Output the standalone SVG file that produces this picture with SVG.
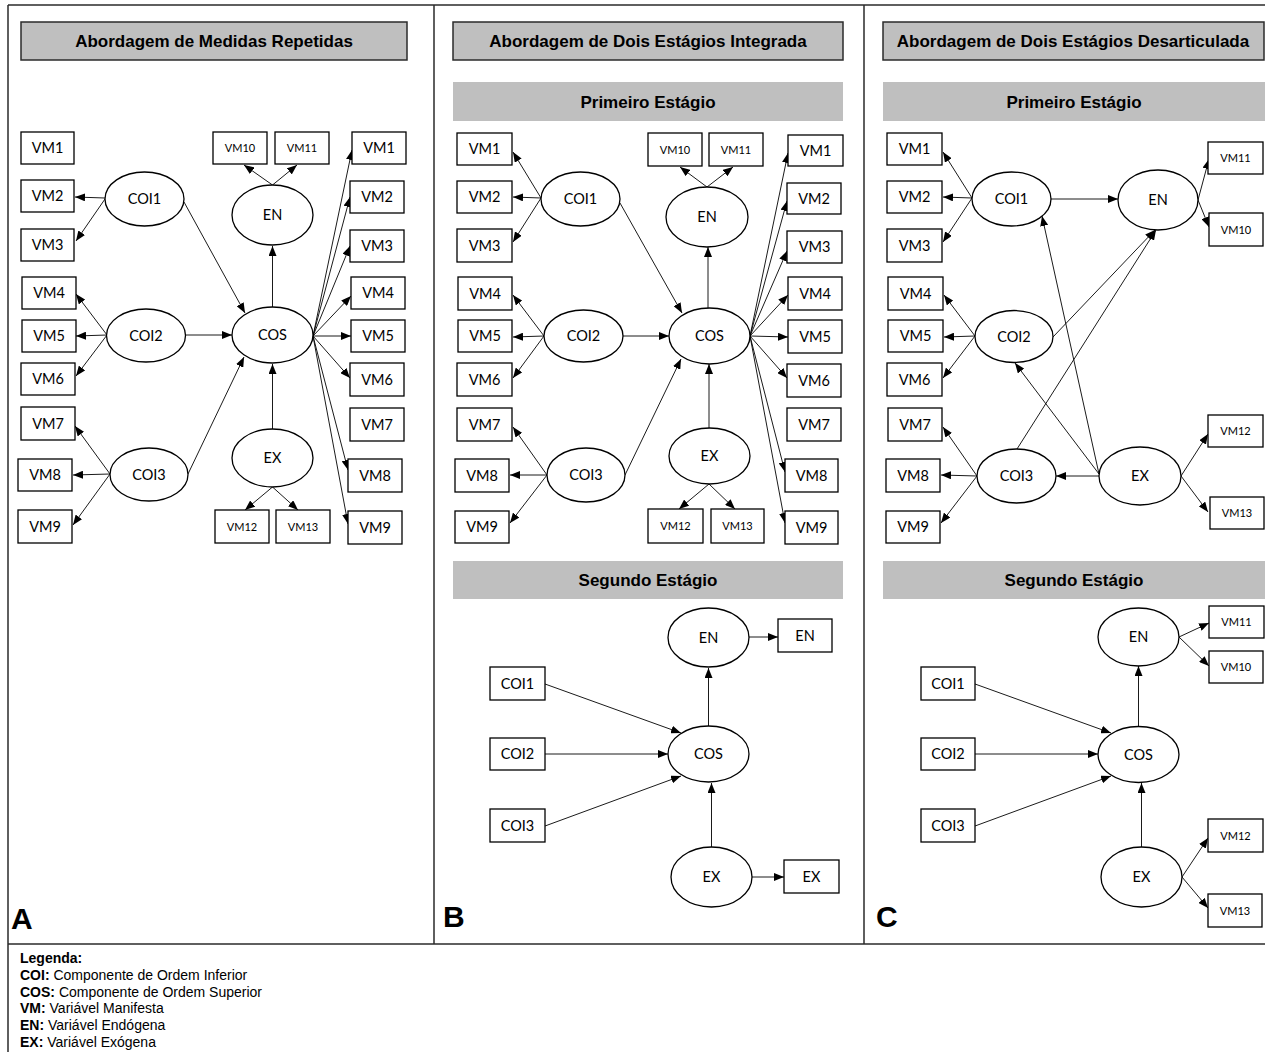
<svg xmlns="http://www.w3.org/2000/svg" width="1265" height="1052" viewBox="0 0 1265 1052">
<style>
.frame{stroke:#2b2b2b;stroke-width:1.5;fill:none}
.title{fill:#bfbfbf;stroke:#2b2b2b;stroke-width:1.5}
.bar{fill:#bfbfbf;stroke:none}
.ht{font-family:"Liberation Sans",Arial,sans-serif;font-weight:bold;font-size:17px;text-anchor:middle;fill:#000}
.box{fill:#fff;stroke:#000;stroke-width:1.3}
.ell{fill:#fff;stroke:#000;stroke-width:1.3}
.t{font-family:Lato,"Open Sans",sans-serif;font-size:14.5px;text-anchor:middle;fill:#000}
.s{font-family:Lato,"Open Sans",sans-serif;font-size:11px;text-anchor:middle;fill:#000}
.conn path{stroke:#000;stroke-width:0.9;fill:none;marker-end:url(#ah)}
.lab{font-family:"Liberation Sans",Arial,sans-serif;font-weight:bold;font-size:30px;fill:#000}
.leg{font-family:"Liberation Sans",Arial,sans-serif;font-size:14px;fill:#000}
.leg tspan.b{font-weight:bold}
</style>
<defs>
<marker id="ah" markerUnits="userSpaceOnUse" markerWidth="10" markerHeight="8" refX="10" refY="4" orient="auto">
<path d="M0,0 L10,4 L0,8 z" fill="#000"/>
</marker>
</defs>
<rect x="0" y="0" width="1265" height="1052" fill="#fff"/>
<g id="frame">
<path class="frame" d="M8,5 H1265 M8,5 V1052 M434,5 V944 M864,5 V944 M8,944 H1265"/>
</g>
<g id="headers">
<rect class="title" x="21" y="22" width="386" height="38"/>
<text class="ht" x="214" y="47">Abordagem de Medidas Repetidas</text>
<rect class="title" x="453" y="22" width="390" height="38"/>
<text class="ht" x="648" y="47">Abordagem de Dois Estágios Integrada</text>
<rect class="title" x="883" y="22" width="381" height="38"/>
<text class="ht" x="1073" y="47">Abordagem de Dois Estágios Desarticulada</text>
<rect class="bar" x="453" y="82" width="390" height="39"/>
<text class="ht" x="648" y="108">Primeiro Estágio</text>
<rect class="bar" x="883" y="82" width="382" height="39"/>
<text class="ht" x="1074" y="108">Primeiro Estágio</text>
<rect class="bar" x="453" y="561" width="390" height="38"/>
<text class="ht" x="648" y="586">Segundo Estágio</text>
<rect class="bar" x="883" y="561" width="382" height="38"/>
<text class="ht" x="1074" y="586">Segundo Estágio</text>
</g>
<g class="conn" id="connectors">
<!-- Panel A -->
<path d="M105,198 L75,197"/>
<path d="M105,199 L76,241"/>
<path d="M107,335 L76,294"/>
<path d="M107,335 L76,336"/>
<path d="M107,335 L76,376"/>
<path d="M110,474 L75,426"/>
<path d="M110,474 L73,475"/>
<path d="M110,474 L73,525"/>
<path d="M184,202 L245,313"/>
<path d="M186,335 L232,335"/>
<path d="M188,474 L244,357"/>
<path d="M272.5,307 L272.5,246"/>
<path d="M272.5,429 L272.5,364"/>
<path d="M272.5,185 L244,165"/>
<path d="M272.5,185 L297,165"/>
<path d="M272.5,487 L245,510"/>
<path d="M272.5,487 L298,510"/>
<path d="M313,336 L352,150"/>
<path d="M313,336 L350,197"/>
<path d="M313,336 L350,246"/>
<path d="M313,336 L351,296"/>
<path d="M313,336 L351,336"/>
<path d="M313,336 L350,378"/>
<path d="M313,336 L348,470"/>
<path d="M313,336 L348,524"/>
<!-- Panel B first stage -->
<path d="M541,198 L513,152"/>
<path d="M541,198 L513,197"/>
<path d="M541,198 L513,242"/>
<path d="M544,336 L513,295"/>
<path d="M544,336 L513,337"/>
<path d="M544,336 L513,378"/>
<path d="M547,475 L513,427"/>
<path d="M547,475 L510,475"/>
<path d="M547,475 L510,523"/>
<path d="M620,203 L682,313"/>
<path d="M623,336 L669,336"/>
<path d="M625,475 L681,359"/>
<path d="M708,308 L708,247"/>
<path d="M709,428 L709,364"/>
<path d="M707,187 L680,167"/>
<path d="M707,187 L733,167"/>
<path d="M709,484 L679,509"/>
<path d="M709,484 L735,509"/>
<path d="M750,336 L788,153"/>
<path d="M750,336 L787,201"/>
<path d="M750,336 L787,251"/>
<path d="M750,336 L788,295"/>
<path d="M750,336 L788,337"/>
<path d="M750,336 L787,378"/>
<path d="M750,336 L785,472"/>
<path d="M750,336 L785,523"/>
<!-- Panel B second stage -->
<path d="M545,684 L681,733"/>
<path d="M545,754 L668,754"/>
<path d="M545,826 L681,776"/>
<path d="M708.5,726 L708.5,668"/>
<path d="M711.5,847 L711.5,783"/>
<path d="M749,637 L778,637"/>
<path d="M752,877 L784,877"/>
<!-- Panel C first stage -->
<path d="M972,198 L943,152"/>
<path d="M972,198 L943,197"/>
<path d="M972,198 L943,242"/>
<path d="M975,336 L944,295"/>
<path d="M975,336 L944,337"/>
<path d="M975,336 L943,378"/>
<path d="M977,476 L943,427"/>
<path d="M977,476 L941,475"/>
<path d="M977,476 L941,523"/>
<path d="M1051,199 L1118,199"/>
<path d="M1198,200 L1209,159"/>
<path d="M1198,200 L1209,227"/>
<path d="M1099,476 L1056,476"/>
<path d="M1099,474 L1015,363"/>
<path d="M1099,474 L1042,216"/>
<path d="M1053,337 L1155,230"/>
<path d="M1017,449 L1156,230"/>
<path d="M1181,476 L1208,434"/>
<path d="M1181,476 L1208,512"/>
<!-- Panel C second stage -->
<path d="M975,684 L1111,733"/>
<path d="M975,754 L1098,754"/>
<path d="M975,826 L1111,776"/>
<path d="M1138.5,726 L1138.5,666"/>
<path d="M1141.5,847 L1141.5,783"/>
<path d="M1179,637 L1209,623"/>
<path d="M1179,637 L1209,666"/>
<path d="M1182,877 L1208,838"/>
<path d="M1182,877 L1208,908"/>
</g>
<!-- Panel A nodes -->
<g id="A-VM1L"><rect class="box" x="21" y="132" width="53" height="32"/><text class="t" x="47.5" y="153">VM1</text></g>
<g id="A-VM2L"><rect class="box" x="21" y="180" width="53" height="32"/><text class="t" x="47.5" y="201">VM2</text></g>
<g id="A-VM3L"><rect class="box" x="21" y="229" width="53" height="32"/><text class="t" x="47.5" y="250">VM3</text></g>
<g id="A-VM4L"><rect class="box" x="22" y="277" width="54" height="32"/><text class="t" x="49" y="298">VM4</text></g>
<g id="A-VM5L"><rect class="box" x="22" y="320" width="54" height="32"/><text class="t" x="49" y="341">VM5</text></g>
<g id="A-VM6L"><rect class="box" x="21" y="363" width="54" height="32"/><text class="t" x="48" y="384">VM6</text></g>
<g id="A-VM7L"><rect class="box" x="21" y="407" width="54" height="33"/><text class="t" x="48" y="428.5">VM7</text></g>
<g id="A-VM8L"><rect class="box" x="18" y="459" width="54" height="32"/><text class="t" x="45" y="480">VM8</text></g>
<g id="A-VM9L"><rect class="box" x="18" y="510" width="54" height="33"/><text class="t" x="45" y="531.5">VM9</text></g>
<g id="A-VM1R"><rect class="box" x="352" y="132" width="54" height="32"/><text class="t" x="379" y="153">VM1</text></g>
<g id="A-VM2R"><rect class="box" x="350" y="181" width="54" height="32"/><text class="t" x="377" y="202">VM2</text></g>
<g id="A-VM3R"><rect class="box" x="350" y="230" width="54" height="32"/><text class="t" x="377" y="251">VM3</text></g>
<g id="A-VM4R"><rect class="box" x="351" y="277" width="54" height="32"/><text class="t" x="378" y="298">VM4</text></g>
<g id="A-VM5R"><rect class="box" x="351" y="320" width="54" height="32"/><text class="t" x="378" y="341">VM5</text></g>
<g id="A-VM6R"><rect class="box" x="350" y="363" width="54" height="33"/><text class="t" x="377" y="384.5">VM6</text></g>
<g id="A-VM7R"><rect class="box" x="350" y="408" width="54" height="33"/><text class="t" x="377" y="429.5">VM7</text></g>
<g id="A-VM8R"><rect class="box" x="348" y="459" width="54" height="33"/><text class="t" x="375" y="480.5">VM8</text></g>
<g id="A-VM9R"><rect class="box" x="348" y="511" width="54" height="33"/><text class="t" x="375" y="532.5">VM9</text></g>
<g id="A-VM10"><rect class="box" x="213" y="132" width="54" height="32"/><text class="s" x="240" y="152">VM10</text></g>
<g id="A-VM11"><rect class="box" x="275" y="132" width="54" height="32"/><text class="s" x="302" y="152">VM11</text></g>
<g id="A-VM12"><rect class="box" x="215" y="510" width="54" height="33"/><text class="s" x="242" y="530.5">VM12</text></g>
<g id="A-VM13"><rect class="box" x="276" y="510" width="54" height="33"/><text class="s" x="303" y="530.5">VM13</text></g>
<g id="A-COI1"><ellipse class="ell" cx="144.5" cy="199" rx="39.5" ry="27"/><text class="t" x="144.5" y="204">COI1</text></g>
<g id="A-COI2"><ellipse class="ell" cx="146" cy="335.5" rx="39.5" ry="26.5"/><text class="t" x="146" y="340.5">COI2</text></g>
<g id="A-COI3"><ellipse class="ell" cx="149" cy="474.5" rx="39" ry="26.5"/><text class="t" x="149" y="479.5">COI3</text></g>
<g id="A-COS"><ellipse class="ell" cx="272.5" cy="335" rx="40.5" ry="28"/><text class="t" x="272.5" y="340">COS</text></g>
<g id="A-EN"><ellipse class="ell" cx="272.5" cy="215" rx="40.5" ry="30"/><text class="t" x="272.5" y="220">EN</text></g>
<g id="A-EX"><ellipse class="ell" cx="272.5" cy="458" rx="40.5" ry="29"/><text class="t" x="272.5" y="463">EX</text></g>
<!-- Panel B first stage nodes -->
<g id="B-VM1L"><rect class="box" x="457" y="133" width="55" height="32"/><text class="t" x="484.5" y="154">VM1</text></g>
<g id="B-VM2L"><rect class="box" x="457" y="181" width="55" height="32"/><text class="t" x="484.5" y="202">VM2</text></g>
<g id="B-VM3L"><rect class="box" x="457" y="229" width="55" height="33"/><text class="t" x="484.5" y="250.5">VM3</text></g>
<g id="B-VM4L"><rect class="box" x="458" y="277" width="54" height="33"/><text class="t" x="485" y="298.5">VM4</text></g>
<g id="B-VM5L"><rect class="box" x="458" y="320" width="54" height="32"/><text class="t" x="485" y="341">VM5</text></g>
<g id="B-VM6L"><rect class="box" x="457" y="363" width="55" height="33"/><text class="t" x="484.5" y="384.5">VM6</text></g>
<g id="B-VM7L"><rect class="box" x="457" y="408" width="55" height="33"/><text class="t" x="484.5" y="429.5">VM7</text></g>
<g id="B-VM8L"><rect class="box" x="455" y="459" width="54" height="33"/><text class="t" x="482" y="480.5">VM8</text></g>
<g id="B-VM9L"><rect class="box" x="455" y="511" width="54" height="32"/><text class="t" x="482" y="532">VM9</text></g>
<g id="B-VM1R"><rect class="box" x="788" y="135" width="55" height="31"/><text class="t" x="815.5" y="155.5">VM1</text></g>
<g id="B-VM2R"><rect class="box" x="787" y="183" width="54" height="31"/><text class="t" x="814" y="203.5">VM2</text></g>
<g id="B-VM3R"><rect class="box" x="787" y="231" width="55" height="32"/><text class="t" x="814.5" y="252">VM3</text></g>
<g id="B-VM4R"><rect class="box" x="788" y="277" width="54" height="33"/><text class="t" x="815" y="298.5">VM4</text></g>
<g id="B-VM5R"><rect class="box" x="788" y="320" width="54" height="33"/><text class="t" x="815" y="341.5">VM5</text></g>
<g id="B-VM6R"><rect class="box" x="787" y="364" width="54" height="33"/><text class="t" x="814" y="385.5">VM6</text></g>
<g id="B-VM7R"><rect class="box" x="787" y="408" width="54" height="33"/><text class="t" x="814" y="429.5">VM7</text></g>
<g id="B-VM8R"><rect class="box" x="785" y="459" width="53" height="33"/><text class="t" x="811.5" y="480.5">VM8</text></g>
<g id="B-VM9R"><rect class="box" x="785" y="511" width="53" height="33"/><text class="t" x="811.5" y="532.5">VM9</text></g>
<g id="B-VM10"><rect class="box" x="648" y="133" width="54" height="33"/><text class="s" x="675" y="153.5">VM10</text></g>
<g id="B-VM11"><rect class="box" x="709" y="133" width="54" height="33"/><text class="s" x="736" y="153.5">VM11</text></g>
<g id="B-VM12"><rect class="box" x="648" y="509" width="55" height="34"/><text class="s" x="675.5" y="530">VM12</text></g>
<g id="B-VM13"><rect class="box" x="711" y="509" width="53" height="34"/><text class="s" x="737.5" y="530">VM13</text></g>
<g id="B-COI1"><ellipse class="ell" cx="580.5" cy="199" rx="39.5" ry="27"/><text class="t" x="580.5" y="204">COI1</text></g>
<g id="B-COI2"><ellipse class="ell" cx="583.5" cy="336" rx="39.5" ry="26"/><text class="t" x="583.5" y="341">COI2</text></g>
<g id="B-COI3"><ellipse class="ell" cx="586" cy="475" rx="39" ry="27"/><text class="t" x="586" y="480">COI3</text></g>
<g id="B-COS"><ellipse class="ell" cx="709.5" cy="336" rx="40.5" ry="28"/><text class="t" x="709.5" y="341">COS</text></g>
<g id="B-EN"><ellipse class="ell" cx="707" cy="217" rx="41" ry="30"/><text class="t" x="707" y="222">EN</text></g>
<g id="B-EX"><ellipse class="ell" cx="709.5" cy="456" rx="40.5" ry="28"/><text class="t" x="709.5" y="461">EX</text></g>
<!-- Panel B second stage nodes -->
<g id="B2-EN"><ellipse class="ell" cx="708.5" cy="637.5" rx="40.5" ry="29.5"/><text class="t" x="708.5" y="642.5">EN</text></g>
<g id="B2-ENbox"><rect class="box" x="778" y="619" width="54" height="33"/><text class="t" x="805" y="640.5">EN</text></g>
<g id="B2-COI1"><rect class="box" x="490" y="667" width="55" height="33"/><text class="t" x="517.5" y="688.5">COI1</text></g>
<g id="B2-COI2"><rect class="box" x="490" y="738" width="55" height="32"/><text class="t" x="517.5" y="759">COI2</text></g>
<g id="B2-COI3"><rect class="box" x="490" y="809" width="55" height="33"/><text class="t" x="517.5" y="830.5">COI3</text></g>
<g id="B2-COS"><ellipse class="ell" cx="708.5" cy="754" rx="40.5" ry="28"/><text class="t" x="708.5" y="759">COS</text></g>
<g id="B2-EX"><ellipse class="ell" cx="711.5" cy="877" rx="40.5" ry="30"/><text class="t" x="711.5" y="882">EX</text></g>
<g id="B2-EXbox"><rect class="box" x="784" y="860" width="55" height="33"/><text class="t" x="811.5" y="881.5">EX</text></g>
<!-- Panel C first stage nodes -->
<g id="C-VM1"><rect class="box" x="887" y="133" width="55" height="32"/><text class="t" x="914.5" y="154">VM1</text></g>
<g id="C-VM2"><rect class="box" x="887" y="181" width="55" height="32"/><text class="t" x="914.5" y="202">VM2</text></g>
<g id="C-VM3"><rect class="box" x="887" y="229" width="55" height="33"/><text class="t" x="914.5" y="250.5">VM3</text></g>
<g id="C-VM4"><rect class="box" x="888" y="277" width="55" height="33"/><text class="t" x="915.5" y="298.5">VM4</text></g>
<g id="C-VM5"><rect class="box" x="888" y="320" width="55" height="32"/><text class="t" x="915.5" y="341">VM5</text></g>
<g id="C-VM6"><rect class="box" x="887" y="363" width="55" height="33"/><text class="t" x="914.5" y="384.5">VM6</text></g>
<g id="C-VM7"><rect class="box" x="888" y="408" width="54" height="33"/><text class="t" x="915" y="429.5">VM7</text></g>
<g id="C-VM8"><rect class="box" x="886" y="459" width="54" height="33"/><text class="t" x="913" y="480.5">VM8</text></g>
<g id="C-VM9"><rect class="box" x="886" y="511" width="54" height="32"/><text class="t" x="913" y="532">VM9</text></g>
<g id="C-VM11"><rect class="box" x="1208" y="142" width="55" height="32"/><text class="s" x="1235.5" y="162">VM11</text></g>
<g id="C-VM10"><rect class="box" x="1209" y="213" width="54" height="33"/><text class="s" x="1236" y="233.5">VM10</text></g>
<g id="C-VM12"><rect class="box" x="1208" y="415" width="55" height="32"/><text class="s" x="1235.5" y="435">VM12</text></g>
<g id="C-VM13"><rect class="box" x="1210" y="497" width="54" height="32"/><text class="s" x="1237" y="517">VM13</text></g>
<g id="C-COI1"><ellipse class="ell" cx="1011.5" cy="199" rx="39.5" ry="27"/><text class="t" x="1011.5" y="204">COI1</text></g>
<g id="C-COI2"><ellipse class="ell" cx="1014" cy="336.5" rx="39" ry="26"/><text class="t" x="1014" y="341.5">COI2</text></g>
<g id="C-COI3"><ellipse class="ell" cx="1016.5" cy="476" rx="39.5" ry="27"/><text class="t" x="1016.5" y="481">COI3</text></g>
<g id="C-EN"><ellipse class="ell" cx="1158" cy="200" rx="40" ry="30"/><text class="t" x="1158" y="205">EN</text></g>
<g id="C-EX"><ellipse class="ell" cx="1140" cy="476" rx="41" ry="29"/><text class="t" x="1140" y="481">EX</text></g>
<!-- Panel C second stage nodes -->
<g id="C2-EN"><ellipse class="ell" cx="1138.5" cy="637" rx="40.5" ry="29"/><text class="t" x="1138.5" y="642">EN</text></g>
<g id="C2-VM11"><rect class="box" x="1209" y="606" width="55" height="32"/><text class="s" x="1236.5" y="626">VM11</text></g>
<g id="C2-VM10"><rect class="box" x="1209" y="651" width="54" height="32"/><text class="s" x="1236" y="671">VM10</text></g>
<g id="C2-COI1"><rect class="box" x="921" y="667" width="54" height="33"/><text class="t" x="948" y="688.5">COI1</text></g>
<g id="C2-COI2"><rect class="box" x="921" y="738" width="54" height="32"/><text class="t" x="948" y="759">COI2</text></g>
<g id="C2-COI3"><rect class="box" x="921" y="809" width="54" height="33"/><text class="t" x="948" y="830.5">COI3</text></g>
<g id="C2-COS"><ellipse class="ell" cx="1138.5" cy="754.5" rx="40.5" ry="28"/><text class="t" x="1138.5" y="759.5">COS</text></g>
<g id="C2-EX"><ellipse class="ell" cx="1141.5" cy="877" rx="40.5" ry="30"/><text class="t" x="1141.5" y="882">EX</text></g>
<g id="C2-VM12"><rect class="box" x="1208" y="819" width="55" height="33"/><text class="s" x="1235.5" y="839.5">VM12</text></g>
<g id="C2-VM13"><rect class="box" x="1208" y="894" width="54" height="33"/><text class="s" x="1235" y="914.5">VM13</text></g>
<g id="panel-labels">
<text class="lab" x="11" y="929">A</text>
<text class="lab" x="443" y="927">B</text>
<text class="lab" x="876" y="927">C</text>
</g>
<g id="legend">
<text class="leg" x="20" y="963"><tspan class="b">Legenda:</tspan></text>
<text class="leg" x="20" y="980"><tspan class="b">COI:</tspan> Componente de Ordem Inferior</text>
<text class="leg" x="20" y="997"><tspan class="b">COS:</tspan> Componente de Ordem Superior</text>
<text class="leg" x="20" y="1013"><tspan class="b">VM:</tspan> Variável Manifesta</text>
<text class="leg" x="20" y="1030"><tspan class="b">EN:</tspan> Variável Endógena</text>
<text class="leg" x="20" y="1047"><tspan class="b">EX:</tspan> Variável Exógena</text>
</g>
</svg>
